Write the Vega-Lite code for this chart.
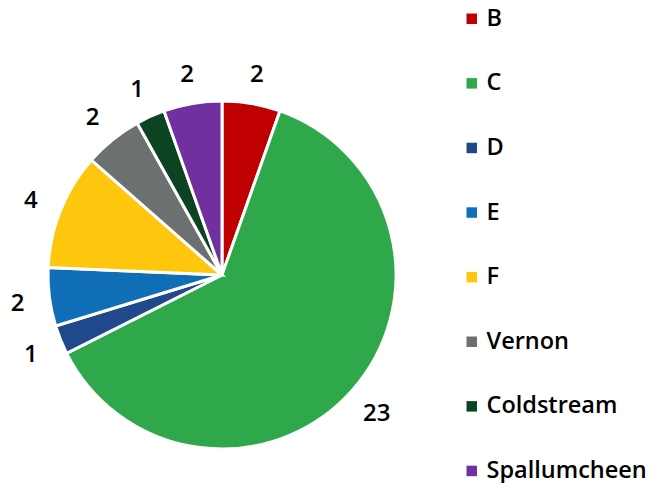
{
  "$schema": "https://vega.github.io/schema/vega-lite/v6.json",
  "autosize": {"type": "none"},
  "width": 444,
  "height": 416,
  "padding": {"left": 0, "top": 67, "right": 221, "bottom": 0},
  "background": "white",
  "data": {
    "values": [
      {"name": "B", "value": 2, "idx": 1},
      {"name": "C", "value": 23, "idx": 2},
      {"name": "D", "value": 1, "idx": 3},
      {"name": "E", "value": 2, "idx": 4},
      {"name": "F", "value": 4, "idx": 5},
      {"name": "Vernon", "value": 2, "idx": 6},
      {"name": "Coldstream", "value": 1, "idx": 7},
      {"name": "Spallumcheen", "value": 2, "idx": 8}
    ]
  },
  "encoding": {
    "theta": {"field": "value", "type": "quantitative", "stack": true},
    "order": {"field": "idx", "type": "quantitative"},
    "color": {
      "field": "name",
      "type": "nominal",
      "scale": {
        "domain": ["B", "C", "D", "E", "F", "Vernon", "Coldstream", "Spallumcheen"],
        "range": ["#C00000", "#2EA84A", "#1F498B", "#106EB7", "#FEC70E", "#6D7070", "#0B4323", "#7030A0"]
      },
      "legend": {
        "orient": "none",
        "legendX": 460,
        "legendY": -60,
        "title": null,
        "symbolType": "square",
        "symbolSize": 110,
        "symbolStrokeWidth": 0,
        "labelFont": "Open Sans",
        "labelFontWeight": 600,
        "labelFontSize": 23.5,
        "labelColor": "#000000",
        "labelOffset": 3,
        "rowPadding": 39.6,
        "labelLimit": 300
      }
    }
  },
  "layer": [
    {
      "mark": {"type": "arc", "outerRadius": 174, "stroke": "white", "strokeWidth": 3}
    },
    {
      "mark": {"type": "text", "radius": 206, "dy": 3, "font": "Open Sans", "fontWeight": 600, "fontSize": 24, "fill": "#000000"},
      "encoding": {
        "text": {"field": "value", "type": "quantitative"},
        "color": {"value": "#000000"}
      }
    }
  ],
  "config": {"view": {"stroke": null}}
}
